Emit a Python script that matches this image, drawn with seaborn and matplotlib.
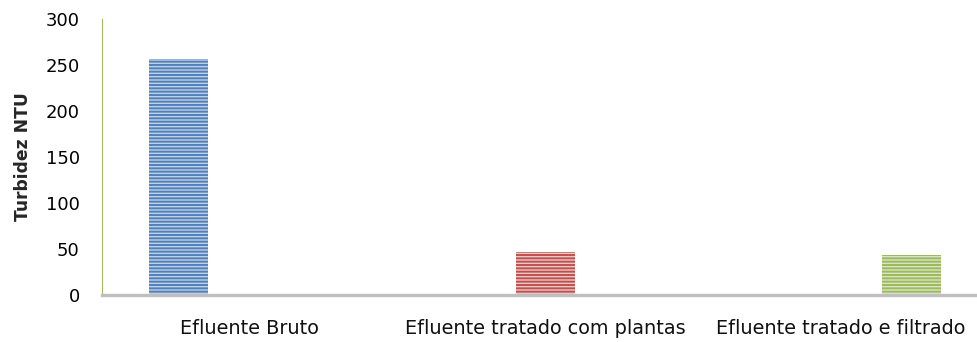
import matplotlib
matplotlib.use("Agg")
import matplotlib.pyplot as plt
import pandas as pd
import seaborn as sns

categories = ["Efluente Bruto", "Efluente tratado com plantas", "Efluente tratado e filtrado"]
turbidez = [256, 46.5, 43.5]
face_colors = ["#bcd0e8", "#efc3c2", "#dbe8c3"]
stripe_colors = ["#4f81bd", "#c0504d", "#9bbb59"]

df = pd.DataFrame({"amostra": categories, "turbidez": turbidez})

sns.set_style("white")
plt.rcParams["font.family"] = ["DejaVu Sans"]
plt.rcParams["hatch.linewidth"] = 1.4

fig = plt.figure(figsize=(9.78, 3.42), dpi=100)
ax = fig.add_axes([102 / 978, 47 / 342, 886.5 / 978, 276 / 342])

sns.barplot(data=df, x="amostra", y="turbidez", hue="amostra", hue_order=categories,
            order=categories, dodge=True, width=0.72, gap=0.17,
            palette=dict(zip(categories, face_colors)), legend=False, ax=ax)

## stripes on the bars
for bar, c in zip(ax.patches, stripe_colors):
    bar.set_hatch("-----")
    bar.set_edgecolor(c)
    bar.set_linewidth(0)

ax.set_xlim(-0.5, 2.5)
ax.set_ylim(0, 300)
ax.set_yticks([0, 50, 100, 150, 200, 250, 300])
ax.set_xlabel("")
ax.set_ylabel("Turbidez NTU", fontsize=12.3, fontweight="bold")
ax.yaxis.set_label_coords(-0.079, 0.5)
ax.tick_params(axis="y", length=0, pad=16, labelsize=13, labelcolor="#000000")
ax.tick_params(axis="x", length=0, pad=17, labelsize=13.9, labelcolor="#111111")

for s in ["top", "right"]:
    ax.spines[s].set_visible(False)
ax.spines["left"].set_color("#9bbb59")
ax.spines["left"].set_linewidth(0.8)
ax.spines["bottom"].set_color("#bfbfbf")
ax.spines["bottom"].set_linewidth(2.4)

fig.savefig("out.png", dpi=100)
